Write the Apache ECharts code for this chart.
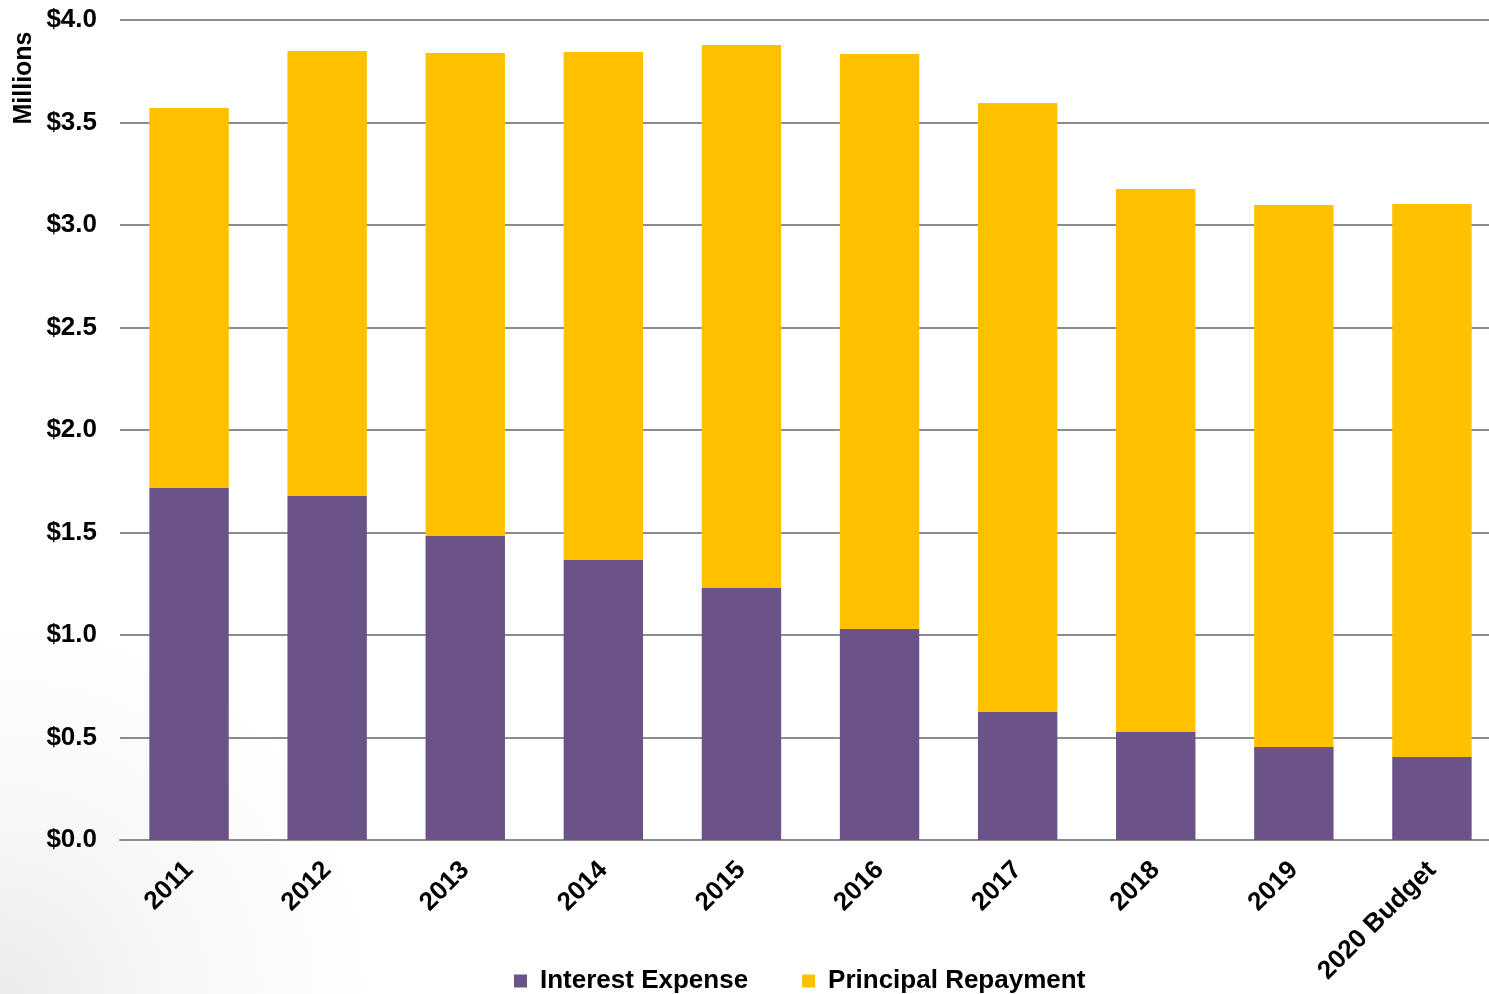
<!DOCTYPE html>
<html><head><meta charset="utf-8">
<script src="https://cdn.jsdelivr.net/npm/echarts@6/dist/echarts.min.js"></script>
<style>html,body{margin:0;padding:0;background:#fff;}#c{width:1489px;height:994px;}</style>
</head><body><div id="c"></div>
<script>
var categories = ['2011','2012','2013','2014','2015','2016','2017','2018','2019','2020 Budget'];
var interestExpense = [1.717, 1.678, 1.483, 1.366, 1.229, 1.029, 0.624, 0.527, 0.454, 0.405];
var principalRepayment = [1.854, 2.171, 2.356, 2.478, 2.649, 2.805, 2.971, 2.649, 2.644, 2.697];
var yTicks = [0, 0.5, 1.0, 1.5, 2.0, 2.5, 3.0, 3.5, 4.0];

var font = 'Liberation Sans, Arial, sans-serif';
var chart = echarts.init(document.getElementById('c'), null, {renderer:'canvas'});
chart.setOption({
  animation:false,
  backgroundColor:{type:'radial', x:0, y:1, r:0.38, colorStops:[{offset:0,color:'#ebebeb'},{offset:0.45,color:'#f7f7f7'},{offset:1,color:'#ffffff'}]},
  grid:{left:120, top:20, width:1381, height:820, containLabel:false, outerBoundsMode:'none'},
  legend:{
    top:963, left:509, itemWidth:13, itemHeight:13, itemGap:54,
    icon:'rect',
    textStyle:{fontFamily:font, fontWeight:'bold', fontSize:26, color:'#000', padding:[0,0,0,8]},
    data:['Interest Expense','Principal Repayment']
  },
  graphic:[{
    type:'text', x:24, y:78, rotation:Math.PI/2,
    style:{text:'Millions', fontFamily:font, fontWeight:'bold', fontSize:25, fill:'#000', align:'center', verticalAlign:'middle'}
  }],
  xAxis:{
    type:'category', data:categories,
    axisLine:{lineStyle:{color:'#8c8c8c', width:2}},
    axisTick:{show:false},
    axisLabel:{rotate:45, interval:0, margin:26, fontFamily:font, fontWeight:'bold', fontSize:26, color:'#000'}
  },
  yAxis:{
    type:'value', min:0, max:4, interval:0.5,
    axisLine:{show:false}, axisTick:{show:false},
    splitLine:{lineStyle:{color:'#8c8c8c', width:2}},
    axisLabel:{margin:23, fontFamily:font, fontWeight:'bold', fontSize:26, color:'#000',
      formatter:function(v){return '$'+v.toFixed(1);}}
  },
  series:[
    {name:'Interest Expense', type:'bar', stack:'t', barWidth:'57.5%', data:interestExpense, itemStyle:{color:'#6b5289'}},
    {name:'Principal Repayment', type:'bar', stack:'t', barWidth:'57.5%', data:principalRepayment, itemStyle:{color:'#ffc000'}}
  ]
});
</script></body></html>
